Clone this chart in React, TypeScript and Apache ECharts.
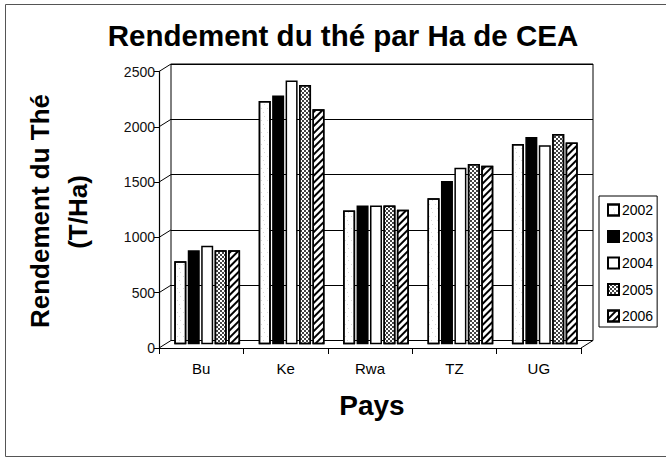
import React, { useEffect, useRef } from "react";
import * as echarts from "echarts";

const categories = ["Bu", "Ke", "Rwa", "TZ", "UG"];
const years = ["2002", "2003", "2004", "2005", "2006"];
const v2002 = [750, 2200, 1210, 1320, 1810];
const v2003 = [850, 2250, 1255, 1475, 1875];
const v2004 = [890, 2385, 1255, 1595, 1800];
const v2005 = [850, 2345, 1255, 1630, 1900];
const v2006 = [850, 2125, 1215, 1615, 1825];
const yTicks = [0, 500, 1000, 1500, 2000, 2500];

const FONT = "'Liberation Sans', Arial, Helvetica, sans-serif";

// geometry
const FRONT = { left: 159, top: 71.5, width: 422, height: 276.5 };
const DX = 12;
const DY = -7.5;

export default function App() {
  const ref = useRef<HTMLDivElement>(null);
  useEffect(() => {
    if (!ref.current) return;
    const chart = echarts.init(ref.current, undefined, { renderer: "svg" });
    const BACK = { left: FRONT.left + DX, top: FRONT.top + DY, width: FRONT.width, height: FRONT.height };
    const BARS = { left: FRONT.left + DX / 2, top: FRONT.top + DY / 2, width: FRONT.width, height: FRONT.height };

    const values = [v2002, v2003, v2004, v2005, v2006];
    const decals: any[] = [
      { symbol: "rect", symbolSize: 0.5, color: "#666", dashArrayX: [[1, 5], [0, 3, 1, 2], [0, 5, 1, 0]], dashArrayY: [1, 3] },
      null,
      null,
      { symbol: "rect", symbolSize: 1, color: "#444", dashArrayX: [[2, 2], [0, 2, 2, 0]], dashArrayY: [2, 0] },
      { symbol: "rect", symbolSize: 1, color: "#000", dashArrayX: [1, 0], dashArrayY: [1.5, 2.5], rotation: -Math.PI / 4 },
    ];
    const colors = ["#fff", "#000", "#fff", "#fff", "#fff"];

    const series: any[] = years.map((y, i) => ({
      name: y,
      type: "bar",
      xAxisIndex: 2,
      yAxisIndex: 2,
      data: values[i],
      barWidth: 12,
      barGap: "12%",
      itemStyle: {
        color: colors[i],
        borderColor: "#000",
        borderWidth: 1.5,
        decal: decals[i] || undefined,
      },
    }));

    const sideLines: any[] = yTicks.map((t) => {
      const yy = FRONT.top + FRONT.height - (t / 2500) * FRONT.height;
      return {
        type: "line",
        shape: { x1: FRONT.left, y1: yy, x2: FRONT.left + DX, y2: yy + DY },
        style: { stroke: "#000", lineWidth: 1 },
      };
    });
    const yb = FRONT.top + FRONT.height;
    sideLines.push({
      type: "line",
      shape: { x1: FRONT.left + FRONT.width, y1: yb, x2: FRONT.left + FRONT.width + DX, y2: yb + DY },
      style: { stroke: "#000", lineWidth: 1 },
    });

    const axisCommon = { min: 0, max: 2500, interval: 500 };

    const textStyle = (extra: any) => ({
      fontWeight: "bold",
      fontFamily: FONT,
      fill: "#000",
      align: "center",
      verticalAlign: "middle",
      textAlign: "center",
      textVerticalAlign: "middle",
      ...extra,
    });

    chart.setOption({
      animation: false,
      backgroundColor: "#fff",
      grid: [
        { ...FRONT },
        { ...BACK, show: true, borderColor: "#000", borderWidth: 1, backgroundColor: "transparent" },
        { ...BARS },
      ],
      xAxis: [
        {
          gridIndex: 0,
          type: "category",
          data: categories,
          axisLine: { lineStyle: { color: "#000", width: 1.2 } },
          axisTick: { show: true, length: 6, lineStyle: { color: "#000" } },
          axisLabel: { color: "#000", fontSize: 15, fontFamily: FONT, margin: 13 },
        },
        { gridIndex: 1, type: "category", data: categories, show: false },
        { gridIndex: 2, type: "category", data: categories, show: false },
      ],
      yAxis: [
        {
          gridIndex: 0,
          type: "value",
          ...axisCommon,
          axisLine: { show: true, lineStyle: { color: "#000", width: 1.2 } },
          axisTick: { show: true, length: 5, lineStyle: { color: "#000" } },
          axisLabel: {
            color: "#111",
            fontSize: 14,
            fontFamily: FONT,
            margin: 4,
            formatter: (v: number) => String(v),
          },
          splitLine: { show: false },
        },
        {
          gridIndex: 1,
          type: "value",
          ...axisCommon,
          axisLine: { show: false },
          axisTick: { show: false },
          axisLabel: { show: false },
          splitLine: { show: true, lineStyle: { color: "#000", width: 1 } },
        },
        {
          gridIndex: 2,
          type: "value",
          ...axisCommon,
          show: false,
          splitLine: { show: false },
        },
      ],
      legend: {
        data: years,
        orient: "vertical",
        left: 599,
        top: 196,
        icon: "rect",
        itemWidth: 11,
        itemHeight: 11,
        itemGap: 12.5,
        padding: [7, 4, 4, 8],
        borderColor: "#000",
        borderWidth: 1,
        backgroundColor: "#fff",
        itemStyle: { borderWidth: 2 },
        textStyle: { color: "#000", fontSize: 14, fontFamily: FONT, lineHeight: 14, padding: [0, 0, 0, -2] },
      },
      graphic: [
        {
          type: "rect",
          shape: { x: 5.5, y: 4.5, width: 670, height: 452 },
          style: { fill: "none", stroke: "#555", lineWidth: 1 },
          silent: true,
        },
        ...sideLines,
        {
          type: "text",
          x: 343,
          y: 35,
          style: textStyle({ text: "Rendement du thé par Ha de CEA", fontSize: 29.5 }),
        },
        {
          type: "text",
          x: 40,
          y: 211,
          rotation: Math.PI / 2,
          style: textStyle({ text: "Rendement du Thé", fontSize: 26 }),
        },
        {
          type: "text",
          x: 78,
          y: 212,
          rotation: Math.PI / 2,
          style: textStyle({ text: "(T/Ha)", fontSize: 26 }),
        },
        {
          type: "text",
          x: 372,
          y: 405,
          style: textStyle({ text: "Pays", fontSize: 28 }),
        },
      ],
      series,
    });
    return () => chart.dispose();
  }, []);
  return (
    <div
      ref={ref}
      style={{ position: "fixed", left: 0, top: 0, width: 666, height: 458 }}
    />
  );
}
